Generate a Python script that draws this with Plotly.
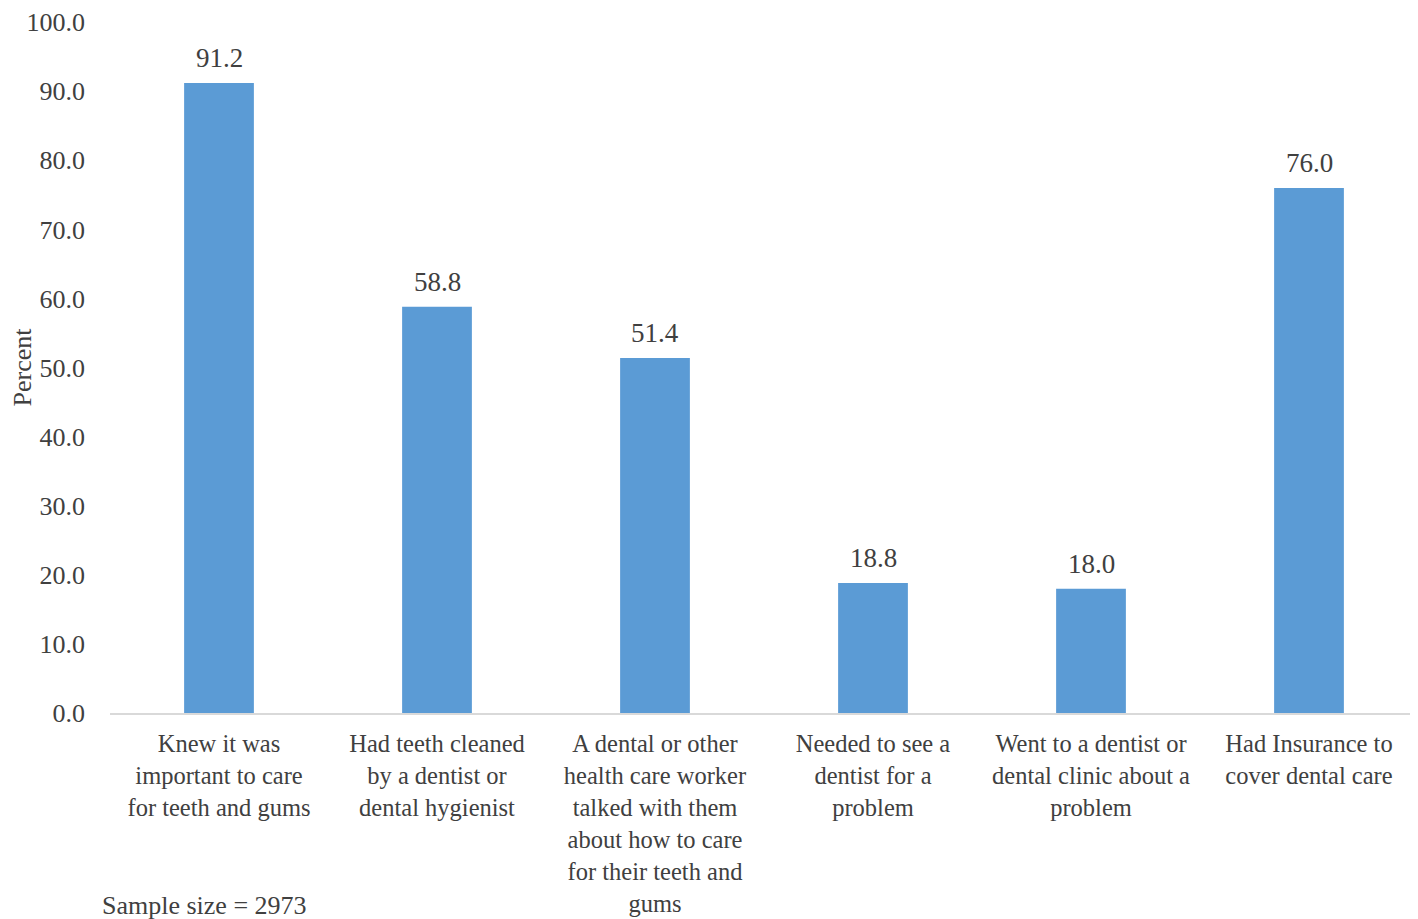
import plotly.graph_objects as go

categories = [
    "Knew it was<br>important to care<br>for teeth and gums",
    "Had teeth cleaned<br>by a dentist or<br>dental hygienist",
    "A dental or other<br>health care worker<br>talked with them<br>about how to care<br>for their teeth and<br>gums",
    "Needed to see a<br>dentist for a<br>problem",
    "Went to a dentist or<br>dental clinic about a<br>problem",
    "Had Insurance to<br>cover dental care",
]
values = [91.2, 58.8, 51.4, 18.8, 18.0, 76.0]
tick_vals = [0, 10, 20, 30, 40, 50, 60, 70, 80, 90, 100]

font_family = "Liberation Serif, Times New Roman, serif"
txt_color = "#404040"

fig = go.Figure(go.Bar(
    x=categories,
    y=values,
    marker=dict(color="#5B9BD5", line=dict(width=0)),
    cliponaxis=False,
))

value_labels = [
    dict(x=c, y=v, xref="x", yref="y", text=f"{v:.1f}", showarrow=False,
         xanchor="center", yanchor="bottom", yshift=8,
         font=dict(family=font_family, size=27, color=txt_color))
    for c, v in zip(categories, values)
]

plot_h = 911 - 14 - 206

fig.update_layout(
    width=1410, height=911,
    margin=dict(l=102, r=0, t=14, b=206),
    paper_bgcolor="white", plot_bgcolor="white",
    bargap=0.68,
    showlegend=False,
    font=dict(family=font_family, color=txt_color, size=26),
    xaxis=dict(
        automargin=False,
        showline=True, linecolor="#D9D9D9", linewidth=2,
        showgrid=False, ticks="",
        ticklabelstandoff=8,
        tickfont=dict(family=font_family, size=24.5, color=txt_color),
    ),
    yaxis=dict(
        automargin=False,
        range=[0, 100.02], tickvals=tick_vals,
        ticktext=[f"{v:.1f}" for v in tick_vals],
        showgrid=False, zeroline=False, showline=False, ticks="",
        ticklabelstandoff=24,
        ticklabeloverflow="allow",
        tickfont=dict(family=font_family, size=26, color=txt_color),
    ),
    annotations=value_labels + [
        dict(text="Percent", xref="paper", yref="paper", x=-88/1308, y=0.5,
             xanchor="center", yanchor="middle", textangle=-90, showarrow=False,
             font=dict(family=font_family, size=26, color=txt_color)),
        dict(text="Sample size = 2973", xref="paper", yref="paper",
             x=-10/1308, y=-192/plot_h, xanchor="left", yanchor="middle",
             showarrow=False,
             font=dict(family=font_family, size=26, color=txt_color)),
    ],
)

fig.write_html("out.html")
